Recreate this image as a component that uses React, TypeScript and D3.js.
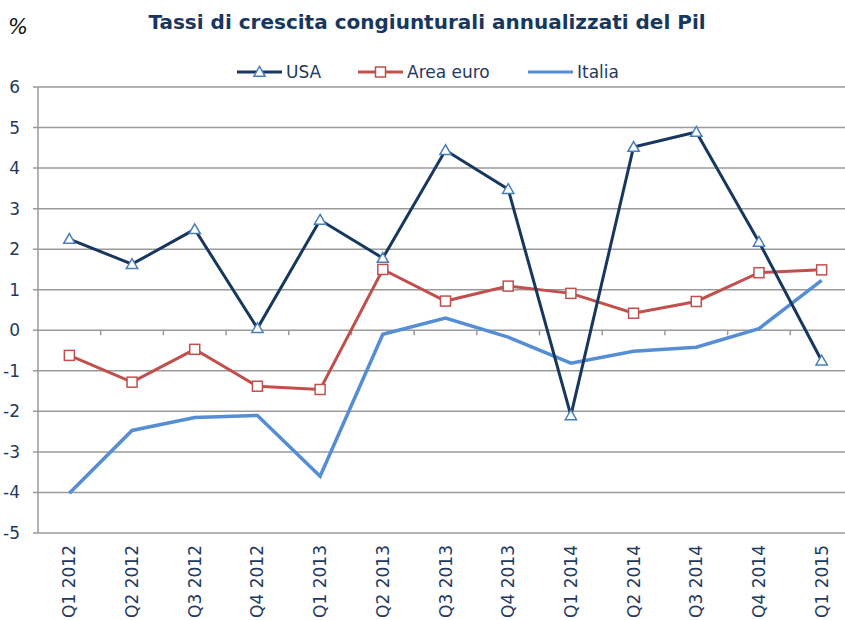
import React, { useEffect, useRef } from 'react';
import * as d3 from 'd3';

const categories = ['Q1 2012', 'Q2 2012', 'Q3 2012', 'Q4 2012', 'Q1 2013', 'Q2 2013', 'Q3 2013', 'Q4 2013', 'Q1 2014', 'Q2 2014', 'Q3 2014', 'Q4 2014', 'Q1 2015'];
const usa = [2.25, 1.63, 2.49, 0.05, 2.72, 1.78, 4.44, 3.48, -2.1, 4.52, 4.89, 2.18, -0.75];
const areaEuro = [-0.62, -1.28, -0.47, -1.38, -1.46, 1.5, 0.72, 1.09, 0.91, 0.42, 0.71, 1.42, 1.49];
const italia = [-4.02, -2.47, -2.15, -2.1, -3.6, -0.1, 0.3, -0.17, -0.81, -0.52, -0.42, 0.04, 1.23];
const yTicks = [6, 5, 4, 3, 2, 1, 0, -1, -2, -3, -4, -5];

const FONT = '"DejaVu Sans", Verdana, sans-serif';
const TEXT = '#1f3a60';

function App() {
  const svgRef = useRef<SVGSVGElement>(null);

  useEffect(() => {
    document.body.style.margin = '0';
    const svg = d3.select(svgRef.current);
    svg.selectAll('*').remove();

    const x = d3.scaleBand<string>().domain(categories).range([38, 853]);
    const cx = (c: string) => (x(c) as number) + x.bandwidth() / 2;
    const y = d3.scaleLinear().domain([-5, 6]).range([533, 87]);

    // gridlines
    svg.append('g')
      .selectAll('line')
      .data(yTicks)
      .enter()
      .append('line')
      .attr('x1', 33)
      .attr('x2', 845)
      .attr('y1', d => y(d))
      .attr('y2', d => y(d))
      .attr('stroke', '#9a9a9a')
      .attr('stroke-width', 1.5);

    // y axis line
    svg.append('line')
      .attr('x1', 38).attr('x2', 38)
      .attr('y1', y(6)).attr('y2', y(-5))
      .attr('stroke', '#9a9a9a')
      .attr('stroke-width', 1.5);

    // category ticks on the zero line
    svg.append('g')
      .selectAll('line')
      .data(categories.slice(1))
      .enter()
      .append('line')
      .attr('x1', d => x(d) as number)
      .attr('x2', d => x(d) as number)
      .attr('y1', y(0))
      .attr('y2', y(0) + 5)
      .attr('stroke', '#9a9a9a')
      .attr('stroke-width', 1.5);

    // y labels
    svg.append('g')
      .selectAll('text')
      .data(yTicks)
      .enter()
      .append('text')
      .attr('x', 20)
      .attr('y', d => y(d) + 6)
      .attr('text-anchor', 'end')
      .attr('font-family', FONT)
      .attr('font-size', 17)
      .attr('fill', TEXT)
      .text(d => d);

    // x labels
    svg.append('g')
      .selectAll('text')
      .data(categories)
      .enter()
      .append('text')
      .attr('transform', d => `translate(${cx(d) + 6},545) rotate(-90)`)
      .attr('text-anchor', 'end')
      .attr('font-family', FONT)
      .attr('font-size', 17)
      .attr('fill', TEXT)
      .text(d => d);

    const line = d3.line<number>()
      .x((d, i) => cx(categories[i]))
      .y(d => y(d));

    svg.append('path').datum(italia)
      .attr('d', line).attr('fill', 'none')
      .attr('stroke', '#558ed5').attr('stroke-width', 3.5);

    svg.append('path').datum(areaEuro)
      .attr('d', line).attr('fill', 'none')
      .attr('stroke', '#c0504d').attr('stroke-width', 3);

    svg.append('path').datum(usa)
      .attr('d', line).attr('fill', 'none')
      .attr('stroke', '#17375e').attr('stroke-width', 3);

    const sq = 10;
    svg.append('g')
      .selectAll('rect')
      .data(areaEuro)
      .enter()
      .append('rect')
      .attr('x', (d, i) => cx(categories[i]) - sq / 2)
      .attr('y', d => y(d) - sq / 2)
      .attr('width', sq).attr('height', sq)
      .attr('fill', 'white')
      .attr('stroke', '#c0504d')
      .attr('stroke-width', 1.5);

    const tri = d3.symbol().type(d3.symbolTriangle).size(55);
    svg.append('g')
      .selectAll('path')
      .data(usa)
      .enter()
      .append('path')
      .attr('d', tri)
      .attr('transform', (d, i) => `translate(${cx(categories[i])},${y(d) + 1})`)
      .attr('fill', 'white')
      .attr('stroke', '#4a7ebb')
      .attr('stroke-width', 1.5);

    // title
    svg.append('text')
      .attr('x', 427).attr('y', 29)
      .attr('text-anchor', 'middle')
      .attr('font-family', FONT)
      .attr('font-weight', 'bold')
      .attr('font-size', 20)
      .attr('fill', '#17375e')
      .text('Tassi di crescita congiunturali annualizzati del Pil');

    svg.append('text')
      .attr('x', 8).attr('y', 34)
      .attr('font-family', FONT)
      .attr('font-style', 'oblique')
      .attr('font-size', 21)
      .attr('fill', '#111')
      .text('%');

    // legend
    const legend = [
      { name: 'USA', color: '#17375e', x: 237, marker: 'tri' },
      { name: 'Area euro', color: '#c0504d', x: 358, marker: 'sq' },
      { name: 'Italia', color: '#558ed5', x: 528, marker: 'none' },
    ];
    const lg = svg.append('g');
    legend.forEach(l => {
      lg.append('line')
        .attr('x1', l.x).attr('x2', l.x + 45)
        .attr('y1', 72).attr('y2', 72)
        .attr('stroke', l.color).attr('stroke-width', 3);
      if (l.marker === 'tri') {
        lg.append('path').attr('d', tri)
          .attr('transform', `translate(${l.x + 22.5},73)`)
          .attr('fill', 'white').attr('stroke', '#4a7ebb').attr('stroke-width', 1.5);
      } else if (l.marker === 'sq') {
        lg.append('rect')
          .attr('x', l.x + 22.5 - sq / 2).attr('y', 72 - sq / 2)
          .attr('width', sq).attr('height', sq)
          .attr('fill', 'white').attr('stroke', '#c0504d').attr('stroke-width', 1.5);
      }
      lg.append('text')
        .attr('x', l.x + 49).attr('y', 78)
        .attr('font-family', FONT)
        .attr('font-size', 17)
        .attr('fill', TEXT)
        .text(l.name);
    });
  }, []);

  return <svg ref={svgRef} width={845} height={620} style={{ display: 'block' }}></svg>;
}

export default App;
